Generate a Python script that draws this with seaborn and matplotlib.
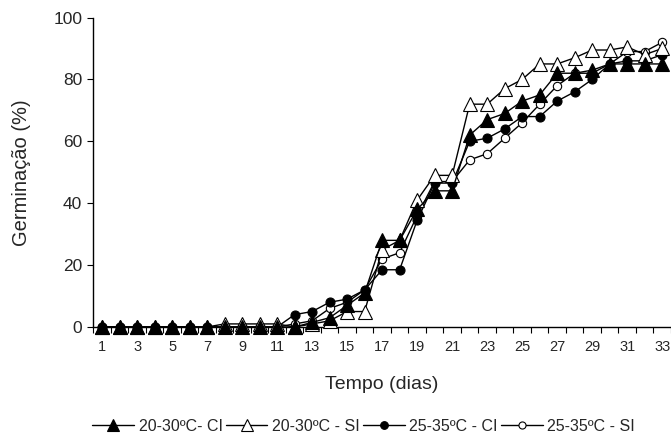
import matplotlib
matplotlib.use('Agg')
import matplotlib.pyplot as plt
import seaborn as sns
import numpy as np

# data
days = list(range(1, 34))
t2030_ci = [0, 0, 0, 0, 0, 0, 0, 0, 0, 0, 0, 0, 1.5, 3, 7, 11, 28, 28, 38, 44, 44,
            62, 67, 69, 73, 75, 82, 82, 83, 85, 85, 85, 85]
t2030_si = [0, 0, 0, 0, 0, 0, 0, 1, 1, 1, 1, 0, 1, 2, 5, 5, 25, 28, 41, 49, 49,
            72, 72, 77, 80, 85, 85, 87, 89.5, 89.5, 90.5, 88, 90]
t2535_ci = [0, 0, 0, 0, 0, 0, 0, 0, 0, 0, 0, 4, 5, 8, 9, 12, 18.5, 18.5, 34.5, 46.5, 46.5,
            60, 61, 64, 68, 68, 73, 76, 80, 85, 86, 86, 88]
t2535_si = [0, 0, 0, 0, 0, 0, 0, 0, 0, 0, 0, 1, 2, 6, 8, 12, 22, 24, 36, 47, 47,
            54, 56, 61, 66, 72, 78, 82, 82, 85, 89, 89, 92]
labels = ['20-30ºC- CI', '20-30ºC - SI', '25-35ºC - CI', '25-35ºC - SI']
x_ticklabels = [str(d) for d in range(1, 34, 2)]

sns.set_style('ticks')
plt.rcParams['font.family'] = ['Liberation Sans', 'DejaVu Sans']

fig = plt.figure(figsize=(6.71, 4.38), dpi=100)
ax = fig.add_axes([0.139, 0.2534, 0.861, 0.7066])

series = [t2030_ci, t2030_si, t2535_ci, t2535_si]
markers = ['^', '^', 'o', 'o']
faces = ['black', 'white', 'black', 'white']
sizes = [10, 10, 6.5, 6]
zorders = [6, 5, 4, 3]
for vals, lab, m, fc, ms, z in zip(series, labels, markers, faces, sizes, zorders):
    sns.lineplot(x=days, y=vals, ax=ax, color='black', lw=1, marker=m,
                 markersize=ms, markerfacecolor=fc, markeredgecolor='black',
                 markeredgewidth=0.8, label=lab, clip_on=False, zorder=z)

ax.set_xlim(0.5, 33.5)
ax.set_ylim(0, 100)
ax.set_yticks(range(0, 101, 20))
ax.set_yticklabels([str(v) for v in range(0, 101, 20)], fontsize=12.5)
ax.set_xticks(np.arange(0.5, 34, 1))
ax.set_xticklabels([])
ax.set_xticks(range(1, 34, 2), minor=True)
ax.set_xticklabels(x_ticklabels, minor=True, fontsize=10.5)
ax.tick_params(axis='x', which='minor', length=0, pad=9)
ax.tick_params(axis='x', which='major', length=4, direction='out', color='black')
ax.tick_params(axis='y', length=4, direction='out', color='black', pad=4)
for s in ['top', 'right']:
    ax.spines[s].set_visible(False)
for s in ['left', 'bottom']:
    ax.spines[s].set_color('black')
    ax.spines[s].set_linewidth(1)

ax.set_xlabel('Tempo (dias)', fontsize=14, labelpad=16)
ax.set_ylabel('Germinação (%)', fontsize=14.5, labelpad=16)

handles, labs = ax.get_legend_handles_labels()
ax.legend_.remove()
fig.legend(handles, labs, loc='center', bbox_to_anchor=(0.542, 0.027), ncol=4,
           frameon=False, fontsize=11.5, handlelength=2.6, handletextpad=0.3,
           columnspacing=0.2, markerscale=0.85)

fig.savefig('out.png', dpi=100)
